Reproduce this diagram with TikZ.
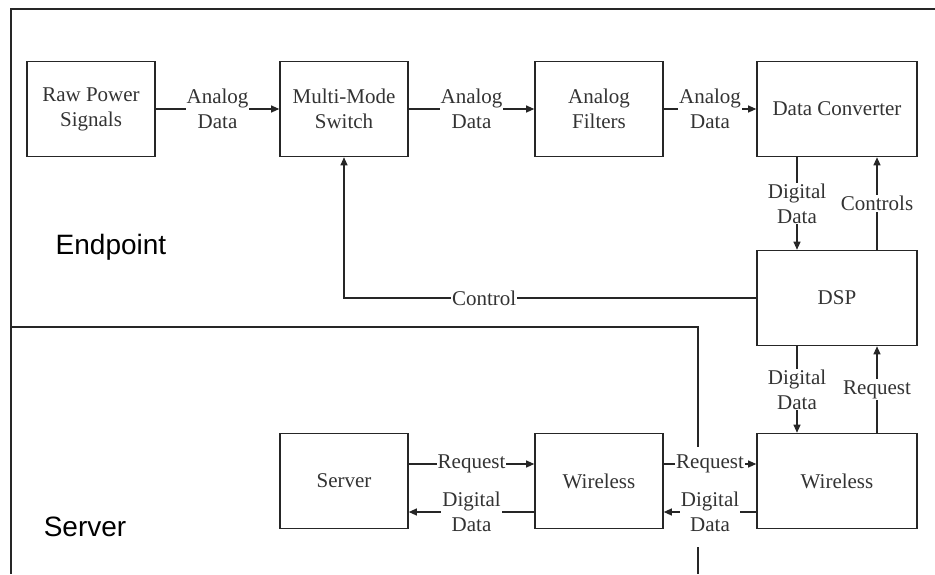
\documentclass[tikz,border=0pt]{standalone}
\usepackage{fontspec}
\setmainfont{Liberation Serif}
\setsansfont{Liberation Sans}
\usetikzlibrary{arrows.meta}

\begin{document}
\begin{tikzpicture}[x=1pt, y=-1pt, every node/.style={font=\fontsize{21}{25}\selectfont, text=black!80}, box/.style={draw=black!85, line width=1.6pt, minimum height=95pt, minimum width=128pt, align=center, inner sep=0pt}, wide/.style={box, minimum width=160pt}, lbl/.style={fill=white, inner sep=1pt, align=center}, arrow/.style={-{Triangle[length=8pt,width=7pt]}, line width=1.1pt, draw=black!85}, zone/.style={font=\sffamily\fontsize{28}{30}\selectfont, text=black}, frame/.style={line width=1.3pt, draw=black!85}]
      \useasboundingbox (0,0) rectangle (935,574);
      \draw[frame] (935,9) -- (11,9) -- (11,574);
      \draw[frame] (11,327) -- (698,327) -- (698,447);
      \draw[frame] (698,547) -- (698,574);
      \node[zone] (ep) at (111,247) {Endpoint};
      \node[zone] (sv) at (85,527) {Server};
      \node[box] (raw) at (91,109) {Raw Power\\Signals};
      \node[box] (mms) at (344,109) {Multi-Mode\\Switch};
      \node[box] (filt) at (599,109) {Analog\\Filters};
      \node[wide] (conv) at (837,109) {Data Converter};
      \node[wide] (dsp) at (837,298) {DSP};
      \node[wide] (wlr) at (837,481) {Wireless};
      \node[box] (wlm) at (599,481) {Wireless};
      \node[box] (srv) at (344,481) {Server};
      \draw[arrow] (raw) -- node[lbl]{Analog\\Data} (mms);
      \draw[arrow] (mms) -- node[lbl]{Analog\\Data} (filt);
      \draw[arrow] (filt) -- node[lbl]{Analog\\Data} (conv);
      \draw[arrow] ([xshift=-40pt]conv.south) -- node[lbl]{Digital\\Data} ([xshift=-40pt]dsp.north);
      \draw[arrow] ([xshift=40pt]dsp.north) -- node[lbl]{Controls} ([xshift=40pt]conv.south);
      \draw[arrow] (dsp.west) -| node[lbl, pos=0.33]{Control} (mms.south);
      \draw[arrow] ([xshift=-40pt]dsp.south) -- node[lbl]{Digital\\Data} ([xshift=-40pt]wlr.north);
      \draw[arrow] ([xshift=40pt]wlr.north) -- node[lbl]{Request} ([xshift=40pt]dsp.south);
      \draw[arrow] ([yshift=17pt]wlm.east) -- node[lbl]{Request} ([yshift=17pt]wlr.west);
      \draw[arrow] ([yshift=-31pt]wlr.west) -- node[lbl]{Digital\\Data} ([yshift=-31pt]wlm.east);
      \draw[arrow] ([yshift=17pt]srv.east) -- node[lbl]{Request} ([yshift=17pt]wlm.west);
      \draw[arrow] ([yshift=-31pt]wlm.west) -- node[lbl]{Digital\\Data} ([yshift=-31pt]srv.east);
    \end{tikzpicture}
\end{document}
